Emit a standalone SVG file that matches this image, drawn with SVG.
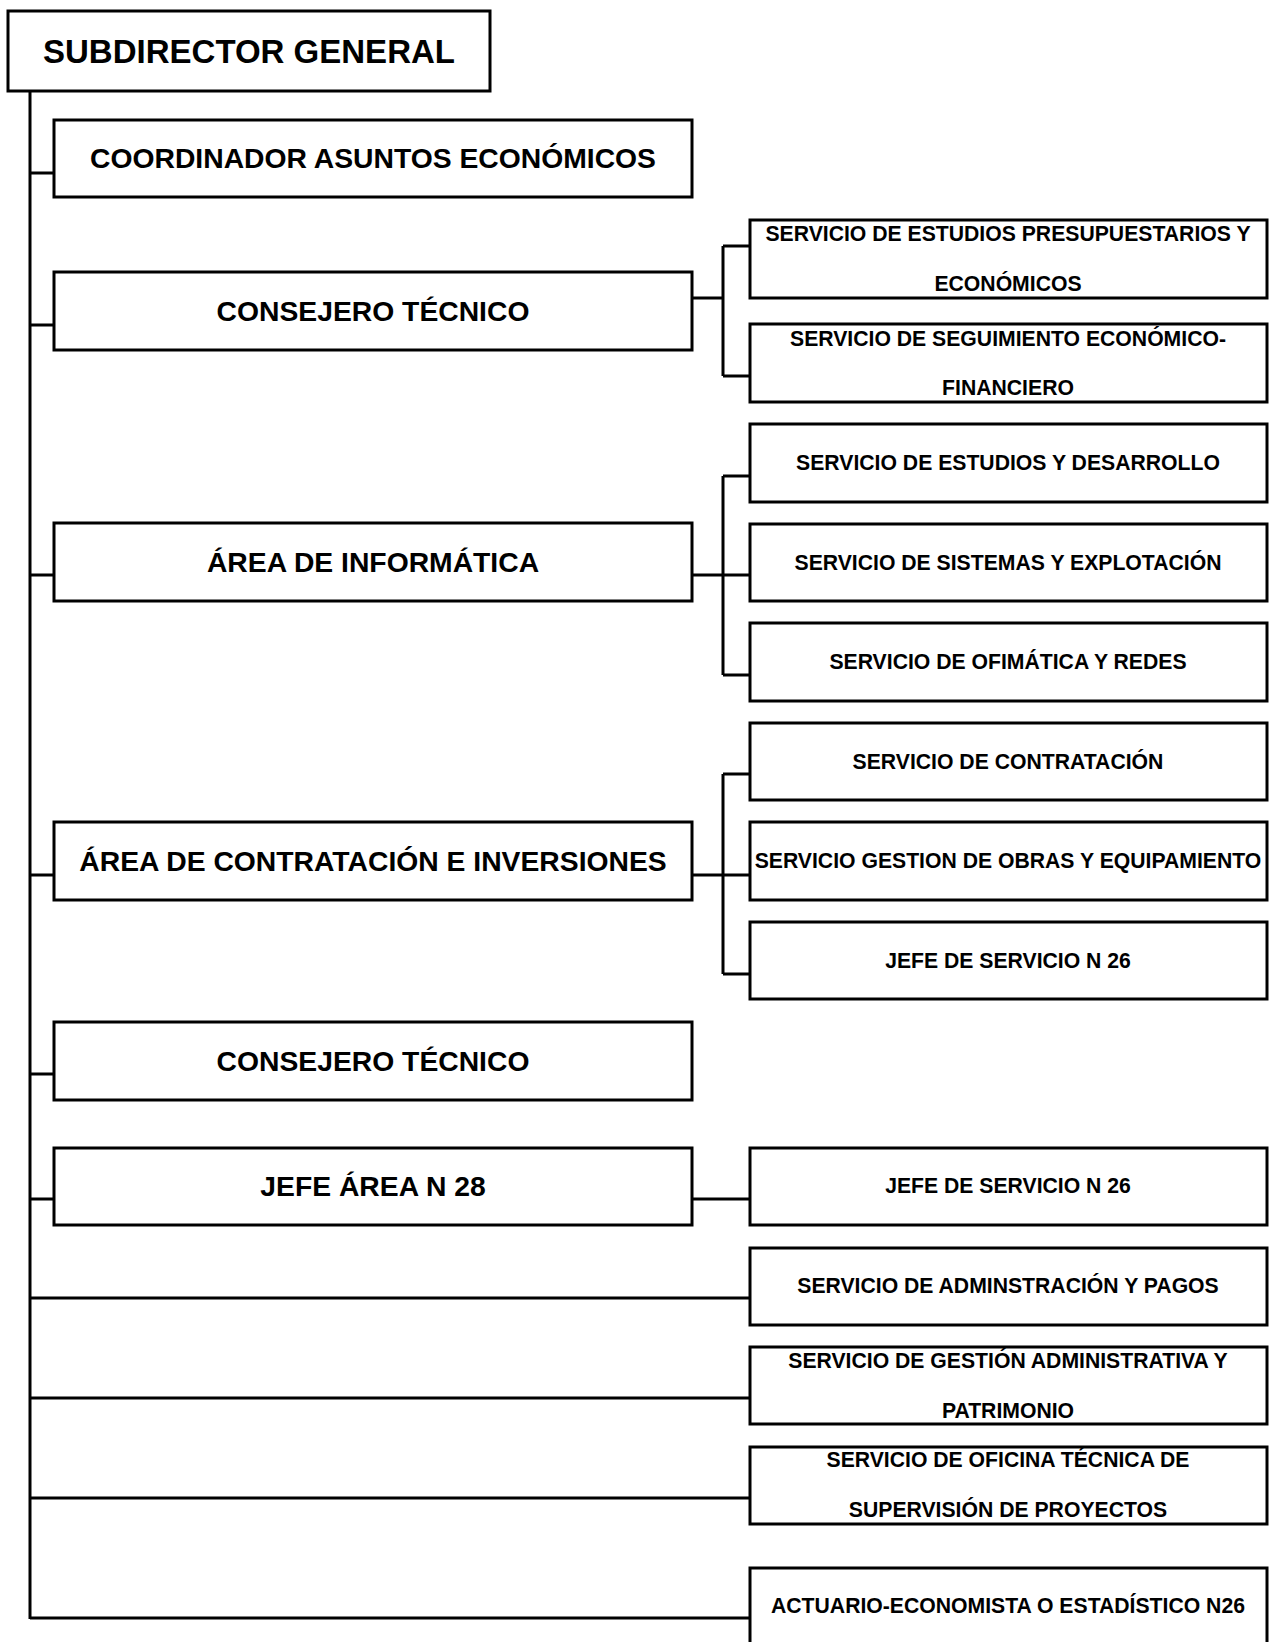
<svg xmlns="http://www.w3.org/2000/svg" width="1276" height="1642" viewBox="0 0 1276 1642">
<style>
.box{fill:#fff;stroke:#000;stroke-width:3}
.ln{fill:none;stroke:#000;stroke-width:3}
text{font-family:"Liberation Sans",Arial,sans-serif;font-weight:bold;fill:#000;text-anchor:middle}
.t0{font-size:33px}
.t1{font-size:28.3px}
.t2{font-size:21.2px}
</style>
<rect width="1276" height="1642" fill="#fff"/>
<g id="connectors">
<path class="ln" d="M30 91 V1619"/>
<path class="ln" d="M30 173 H54 M30 325 H54 M30 575 H54 M30 875 H54 M30 1074 H54 M30 1199 H54"/>
<path class="ln" d="M692 298 H723 M723 246 V376 M723 246 H750 M723 376 H750"/>
<path class="ln" d="M692 575 H750 M723 476 V675 M723 476 H750 M723 675 H750"/>
<path class="ln" d="M692 875 H750 M723 774 V974 M723 774 H750 M723 974 H750"/>
<path class="ln" d="M692 1199 H750"/>
<path class="ln" d="M30 1298 H750 M30 1398 H750 M30 1498 H750 M30 1618 H750"/>
</g>
<g id="subdirector"><rect class="box" x="8" y="11" width="482" height="80"/><text class="t0" x="249" y="63">SUBDIRECTOR GENERAL</text></g>
<g id="coordinador"><rect class="box" x="54" y="120" width="638" height="77"/><text class="t1" x="373" y="168">COORDINADOR ASUNTOS ECONÓMICOS</text></g>
<g id="consejero1"><rect class="box" x="54" y="272" width="638" height="78"/><text class="t1" x="373" y="321">CONSEJERO TÉCNICO</text></g>
<g id="informatica"><rect class="box" x="54" y="523" width="638" height="78"/><text class="t1" x="373" y="572">ÁREA DE INFORMÁTICA</text></g>
<g id="contratacion"><rect class="box" x="54" y="822" width="638" height="78"/><text class="t1" x="373" y="871">ÁREA DE CONTRATACIÓN E INVERSIONES</text></g>
<g id="consejero2"><rect class="box" x="54" y="1022" width="638" height="78"/><text class="t1" x="373" y="1071">CONSEJERO TÉCNICO</text></g>
<g id="jefearea"><rect class="box" x="54" y="1148" width="638" height="77"/><text class="t1" x="373" y="1196">JEFE ÁREA N 28</text></g>
<g id="s-presupuestarios"><rect class="box" x="750" y="220" width="517" height="78"/><text class="t2" x="1008" y="240.5">SERVICIO DE ESTUDIOS PRESUPUESTARIOS Y</text><text class="t2" x="1008" y="290.5">ECONÓMICOS</text></g>
<g id="s-seguimiento"><rect class="box" x="750" y="324" width="517" height="78"/><text class="t2" x="1008" y="345.5">SERVICIO DE SEGUIMIENTO ECONÓMICO-</text><text class="t2" x="1008" y="394.5">FINANCIERO</text></g>
<g id="s-estudios"><rect class="box" x="750" y="424" width="517" height="78"/><text class="t2" x="1008" y="470">SERVICIO DE ESTUDIOS Y DESARROLLO</text></g>
<g id="s-sistemas"><rect class="box" x="750" y="524" width="517" height="77"/><text class="t2" x="1008" y="570">SERVICIO DE SISTEMAS Y EXPLOTACIÓN</text></g>
<g id="s-ofimatica"><rect class="box" x="750" y="623" width="517" height="78"/><text class="t2" x="1008" y="669">SERVICIO DE OFIMÁTICA Y REDES</text></g>
<g id="s-contratacion"><rect class="box" x="750" y="723" width="517" height="77"/><text class="t2" x="1008" y="769">SERVICIO DE CONTRATACIÓN</text></g>
<g id="s-obras"><rect class="box" x="750" y="822" width="517" height="78"/><text class="t2" x="1008" y="868">SERVICIO GESTION DE OBRAS Y EQUIPAMIENTO</text></g>
<g id="s-jefe1"><rect class="box" x="750" y="922" width="517" height="77"/><text class="t2" x="1008" y="968">JEFE DE SERVICIO N 26</text></g>
<g id="s-jefe2"><rect class="box" x="750" y="1148" width="517" height="77"/><text class="t2" x="1008" y="1193">JEFE DE SERVICIO N 26</text></g>
<g id="s-administracion"><rect class="box" x="750" y="1248" width="517" height="77"/><text class="t2" x="1008" y="1293">SERVICIO DE ADMINSTRACIÓN Y PAGOS</text></g>
<g id="s-gestion"><rect class="box" x="750" y="1347" width="517" height="77"/><text class="t2" x="1008" y="1367.5">SERVICIO DE GESTIÓN ADMINISTRATIVA Y</text><text class="t2" x="1008" y="1417.5">PATRIMONIO</text></g>
<g id="s-oficina"><rect class="box" x="750" y="1447" width="517" height="77"/><text class="t2" x="1008" y="1466.5">SERVICIO DE OFICINA TÉCNICA DE</text><text class="t2" x="1008" y="1516.5">SUPERVISIÓN DE PROYECTOS</text></g>
<g id="s-actuario"><rect class="box" x="750" y="1568" width="517" height="80"/><text class="t2" x="1008" y="1613">ACTUARIO-ECONOMISTA O ESTADÍSTICO N26</text></g>
</svg>
